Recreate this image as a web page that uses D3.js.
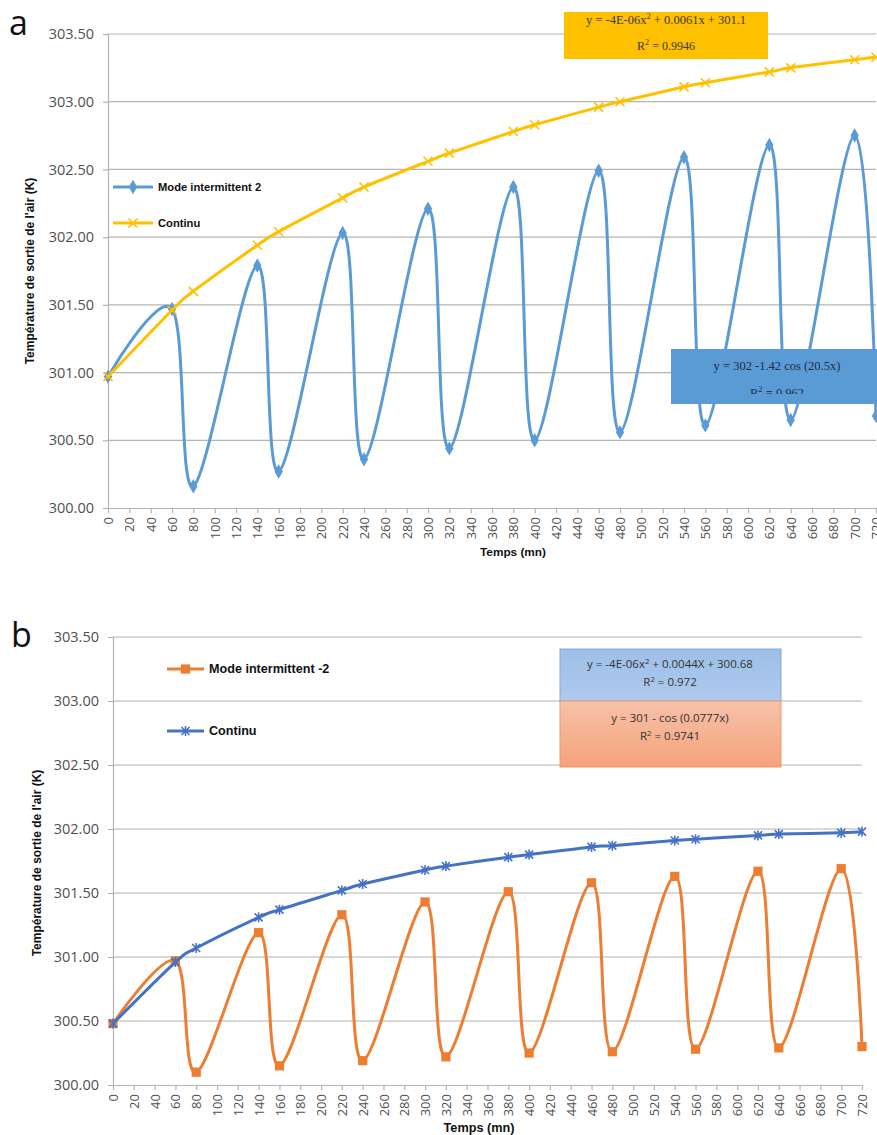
<!DOCTYPE html>
<html>
<head>
<meta charset="utf-8">
<script src="https://d3js.org/d3.v7.min.js"></script>
<style>
  body { margin: 0; background: #fff; }
  svg { display: block; background: #fff; }
</style>
</head>
<body>
<svg id="canvas" width="877" height="1135"></svg>
<script>
  // time steps (mn) where the markers sit
  const times = [0, 60, 80, 140, 160, 220, 240, 300, 320, 380, 400, 460, 480, 540, 560, 620, 640, 700, 720]

  // panel a
  const intermA = [300.97, 301.47, 300.16, 301.79, 300.27, 302.03, 300.36, 302.21, 300.44, 302.37, 300.50, 302.49, 300.56, 302.59, 300.61, 302.68, 300.65, 302.75, 300.68]
  const continuA = [300.97, 301.46, 301.60, 301.94, 302.04, 302.29, 302.37, 302.56, 302.62, 302.78, 302.83, 302.96, 303.00, 303.11, 303.14, 303.22, 303.25, 303.31, 303.33]

  // panel b
  const intermB = [300.48, 300.97, 300.10, 301.19, 300.15, 301.33, 300.19, 301.43, 300.22, 301.51, 300.25, 301.58, 300.26, 301.63, 300.28, 301.67, 300.29, 301.69, 300.30]
  const continuB = [300.48, 300.96, 301.07, 301.31, 301.37, 301.52, 301.57, 301.68, 301.71, 301.78, 301.80, 301.86, 301.87, 301.91, 301.92, 301.95, 301.96, 301.97, 301.98]

  const yTicks = [300.0, 300.5, 301.0, 301.5, 302.0, 302.5, 303.0, 303.5]
  const xTicks = [0, 20, 40, 60, 80, 100, 120, 140, 160, 180, 200, 220, 240, 260, 280, 300, 320, 340,
    360, 380, 400, 420, 440, 460, 480, 500, 520, 540, 560, 580, 600, 620, 640, 660, 680, 700, 720]

  const yTitle = "Température de sortie de l'air (K)"
  const xTitle = 'Temps (mn)'

  const svg = d3.select('#canvas')
  const sans = '"Liberation Sans", Arial, sans-serif'
  const tickFont = '"Open Sans", "Liberation Sans", sans-serif'
  const serif = '"Liberation Serif", "Times New Roman", serif'
  const gridColor = '#b4b4b4'

  // markers
  const markerPath = {
    diamond: d3.symbol(d3.symbolDiamond, 60)(),
    square: d3.symbol(d3.symbolSquare, 85)(),
    cross: 'M-4.5,-4.5L4.5,4.5M-4.5,4.5L4.5,-4.5',
    star: 'M-4,-4L4,4M-4,4L4,-4M0,-5L0,5'
  }
  const filledMarker = m => m === 'diamond' || m === 'square'

  function drawMarker(g, x, y, kind, color) {
    const p = g.append('path').attr('d', markerPath[kind]).attr('transform', `translate(${x},${y})`)
    if (filledMarker(kind)) p.attr('fill', color)
    else p.attr('fill', 'none').attr('stroke', color).attr('stroke-width', 1.6)
  }

  function drawPanel(cfg) {
    const g = svg.append('g')
    const x = d3.scaleLinear().domain([0, 720]).range([cfg.left, cfg.right])
    const y = d3.scaleLinear().domain([300, 303.5]).range([cfg.bottom, cfg.top])

    // horizontal grid
    g.append('g').selectAll('line').data(yTicks.slice(1)).join('line')
      .attr('x1', cfg.left).attr('x2', cfg.right)
      .attr('y1', d => y(d)).attr('y2', d => y(d))
      .attr('stroke', gridColor).attr('stroke-width', 1.2)

    // y axis
    const yAxis = g.append('g').attr('transform', `translate(${cfg.left},0)`)
      .call(d3.axisLeft(y).tickValues(yTicks).tickFormat(d3.format('.2f')).tickSize(5).tickPadding(9))
    yAxis.select('.domain').attr('stroke', gridColor).attr('stroke-width', 1.2)
    yAxis.selectAll('.tick line').attr('stroke', gridColor).attr('stroke-width', 1.2)
    yAxis.selectAll('.tick text').attr('fill', '#505050')
      .style('font-family', tickFont).style('font-size', '14.5px')

    // x axis
    const xAxis = g.append('g').attr('transform', `translate(0,${cfg.bottom})`)
      .call(d3.axisBottom(x).tickValues(xTicks).tickSize(5).tickSizeOuter(0))
    xAxis.select('.domain').attr('stroke', gridColor).attr('stroke-width', 1.2)
    xAxis.selectAll('.tick line').attr('stroke', gridColor).attr('stroke-width', 1.2)
    xAxis.selectAll('.tick text')
      .attr('fill', '#505050')
      .style('font-family', tickFont).style('font-size', '13px')
      .attr('transform', 'rotate(-90)')
      .attr('text-anchor', 'end')
      .attr('dy', '0.35em')
      .attr('y', 0).attr('x', -9)

    // axis titles
    g.append('text')
      .attr('transform', `translate(${cfg.yTitleX},${cfg.yTitleY}) rotate(-90)`)
      .attr('text-anchor', 'middle')
      .style('font-family', sans).style('font-weight', 'bold').style('font-size', '12px')
      .attr('fill', '#111')
      .text(yTitle)
    g.append('text')
      .attr('x', cfg.xTitleX).attr('y', cfg.xTitleY)
      .attr('text-anchor', 'middle')
      .style('font-family', sans).style('font-weight', 'bold').style('font-size', cfg.titleSize + 'px')
      .attr('fill', '#111')
      .text(xTitle)

    // panel letter
    g.append('text')
      .attr('x', cfg.letterX).attr('y', cfg.letterY)
      .style('font-family', '"Open Sans", sans-serif').style('font-size', '34px')
      .attr('fill', '#111')
      .text(cfg.letter)

    // series
    const line = d3.line()
      .x((d, i) => x(times[i]))
      .y(d => y(d))
      .curve(d3.curveCardinal.tension(0))

    cfg.series.forEach(s => {
      g.append('path').datum(s.values)
        .attr('d', line)
        .attr('fill', 'none')
        .attr('stroke', s.color)
        .attr('stroke-width', 3)
        .attr('stroke-linejoin', 'round')
      const mg = g.append('g')
      s.values.forEach((v, i) => drawMarker(mg, x(times[i]), y(v), s.marker, s.color))
    })

    // legend
    cfg.series.forEach((s, i) => {
      const ly = cfg.legendY[i]
      g.append('line')
        .attr('x1', cfg.legendX).attr('x2', cfg.legendX + cfg.legendLen)
        .attr('y1', ly).attr('y2', ly)
        .attr('stroke', s.color).attr('stroke-width', 3)
      drawMarker(g, cfg.legendX + cfg.legendLen / 2, ly, s.marker, s.color)
      g.append('text')
        .attr('x', cfg.legendX + cfg.legendLen + 5).attr('y', ly)
        .attr('dy', '0.35em')
        .style('font-family', sans).style('font-weight', 'bold').style('font-size', cfg.legendSize + 'px')
        .attr('fill', '#111')
        .text(s.name)
    })

    return g
  }

  // equation label, "^" marks a superscript 2
  function eqText(g, x, y, str, font, size, color, clip) {
    const t = g.append('text')
      .attr('x', x).attr('y', y)
      .attr('text-anchor', 'middle')
      .style('font-family', font).style('font-size', size + 'px')
      .attr('fill', color)
    if (clip) t.attr('clip-path', clip)
    const parts = str.split('^')
    const shift = size * 0.38
    parts.forEach((p, i) => {
      if (i === 0) {
        t.append('tspan').text(p)
      } else {
        t.append('tspan').attr('dy', -shift).style('font-size', (size * 0.68) + 'px').text('2')
        t.append('tspan').attr('dy', shift).text(p)
      }
    })
  }

  const defs = svg.append('defs')

  // ---------- panel a
  const gA = drawPanel({
    letter: 'a', letterX: 9, letterY: 35,
    left: 108, right: 876, top: 34, bottom: 508,
    yTitleX: 34, yTitleY: 271,
    xTitleX: 513, xTitleY: 556, titleSize: 11.8,
    legendX: 113, legendLen: 40, legendY: [187, 223], legendSize: 11.2,
    series: [
      { name: 'Mode intermittent 2', values: intermA, color: '#5B9BD5', marker: 'diamond' },
      { name: 'Continu', values: continuA, color: '#FFC000', marker: 'cross' }
    ]
  })

  gA.append('rect').attr('x', 564).attr('y', 12).attr('width', 204).attr('height', 47).attr('fill', '#FFC000')
  eqText(gA, 666, 24, 'y = -4E-06x^ + 0.0061x + 301.1', serif, 12.5, '#3a3a3a')
  eqText(gA, 666, 50, 'R^ = 0.9946', serif, 12, '#3a3a3a')

  defs.append('clipPath').attr('id', 'clipBoxA')
    .append('rect').attr('x', 671).attr('y', 349).attr('width', 206).attr('height', 45)
  gA.append('rect').attr('x', 671).attr('y', 349).attr('width', 206).attr('height', 55).attr('fill', '#5B9BD5')
  eqText(gA, 777, 370, 'y = 302 -1.42 cos (20.5x)', serif, 12.5, '#1d2b45')
  eqText(gA, 777, 397, 'R^ = 0.962', serif, 12.5, '#1d2b45', 'url(#clipBoxA)')

  // ---------- panel b
  const gB = drawPanel({
    letter: 'b', letterX: 11, letterY: 647,
    left: 113, right: 862, top: 637, bottom: 1085,
    yTitleX: 41, yTitleY: 863,
    xTitleX: 479, xTitleY: 1132, titleSize: 12.7,
    legendX: 167, legendLen: 37, legendY: [669, 731], legendSize: 12.6,
    series: [
      { name: 'Mode intermittent -2', values: intermB, color: '#ED7D31', marker: 'square' },
      { name: 'Continu', values: continuB, color: '#4472C4', marker: 'star' }
    ]
  })

  const gradBlue = defs.append('linearGradient').attr('id', 'gradBlue').attr('x1', 0).attr('y1', 0).attr('x2', 0).attr('y2', 1)
  gradBlue.append('stop').attr('offset', '0%').attr('stop-color', '#9cbfe8')
  gradBlue.append('stop').attr('offset', '100%').attr('stop-color', '#afcaec')
  const gradOrange = defs.append('linearGradient').attr('id', 'gradOrange').attr('x1', 0).attr('y1', 0).attr('x2', 0).attr('y2', 1)
  gradOrange.append('stop').attr('offset', '0%').attr('stop-color', '#f7c1a8')
  gradOrange.append('stop').attr('offset', '100%').attr('stop-color', '#f4a27c')

  gB.append('rect').attr('x', 560).attr('y', 649).attr('width', 221).attr('height', 52)
    .attr('fill', 'url(#gradBlue)').attr('stroke', '#86a7d6').attr('stroke-width', 1)
  gB.append('rect').attr('x', 560).attr('y', 701).attr('width', 221).attr('height', 66)
    .attr('fill', 'url(#gradOrange)').attr('stroke', '#ef9a6a').attr('stroke-width', 1)
  eqText(gB, 670, 668, 'y = -4E-06x^ + 0.0044X + 300.68', tickFont, 11.5, '#333')
  eqText(gB, 670, 686, 'R^ = 0.972', tickFont, 11.5, '#333')
  eqText(gB, 670, 722, 'y = 301 - cos (0.0777x)', tickFont, 11.5, '#333')
  eqText(gB, 670, 740, 'R^ = 0.9741', tickFont, 11.5, '#333')
</script>
</body>
</html>
